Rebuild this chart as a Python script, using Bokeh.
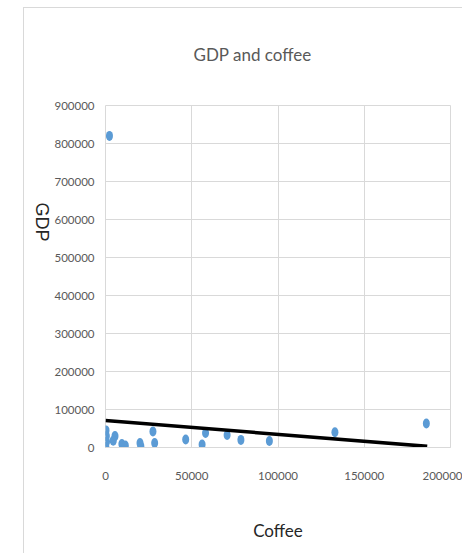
from bokeh.plotting import figure
from bokeh.models import Range1d, NumeralTickFormatter, FixedTicker
from bokeh.embed import file_html
from bokeh.resources import INLINE
import math

# Coffee consumption vs GDP, one point per country
coffee = [2300, 300, 500, 200, 600, 5500, 4500, 9500, 11500, 20500, 20000,
          27500, 28500, 46500, 56000, 58000, 70500, 78500, 95000, 133000, 186000]
gdp = [820000, 45000, 30000, 2000, 15000, 30000, 18000, 9000, 5000, 3000, 12000,
       42000, 12000, 21000, 8000, 38000, 33000, 20000, 17000, 40000, 63000]

# linear trendline end points
trend_coffee = [0, 186500]
trend_gdp = [71000, 3000]

x_ticks = [0, 50000, 100000, 150000, 200000]
y_ticks = [0, 100000, 200000, 300000, 400000, 500000, 600000, 700000, 800000, 900000]

FONT = "Lato"
GRID = "#d9d9d9"
NBSP = "\u00a0"

p = figure(width=462, height=553, output_backend="svg", toolbar_location=None,
           x_range=Range1d(0, 200000), y_range=Range1d(0, 900000),
           min_border_left=105, min_border_right=12,
           min_border_top=105, min_border_bottom=106,
           title="GDP and coffee")
p.background_fill_color = "white"
p.border_fill_alpha = 0
p.outline_line_color = GRID
# chart area border (left and top edges) painted behind the canvas
p.styles = {
    "background-color": "white",
    "background-image": f"linear-gradient({GRID}, {GRID}), linear-gradient({GRID}, {GRID})",
    "background-size": "1px 546px, 439px 1px",
    "background-position": "23px 7px, 23px 7px",
    "background-repeat": "no-repeat",
}

p.title.align = "left"
p.title.offset = 88
p.title.text_font = FONT
p.title.text_font_style = "normal"
p.title.text_font_size = "17px"
p.title.text_color = "#595959"
p.title.standoff = 82

for ax in (p.xaxis, p.yaxis):
    ax.formatter = NumeralTickFormatter(format="0")
    ax.major_tick_out = 0
    ax.major_tick_in = 0
    ax.minor_tick_out = 0
    ax.minor_tick_in = 0
    ax.major_tick_line_color = None
    ax.minor_tick_line_color = None
    ax.major_label_text_font = FONT
    ax.major_label_text_font_size = "11.5px"
    ax.major_label_text_color = "#595959"
    ax.axis_label_text_font_style = "normal"
    ax.axis_label_text_color = "#262626"
p.xaxis.ticker = FixedTicker(ticks=x_ticks)
p.yaxis.ticker = FixedTicker(ticks=y_ticks)
p.xaxis.axis_line_color = GRID
p.yaxis.axis_line_color = None
p.xaxis.major_label_standoff = 24
p.yaxis.major_label_standoff = 11

p.xaxis.axis_label = "Coffee"
p.xaxis.axis_label_text_font = FONT
p.xaxis.axis_label_text_font_size = "17px"
p.xaxis.axis_label_standoff = 37

# reads top to bottom; trailing padding lifts it above the frame's middle
p.yaxis.axis_label = "GDP" + NBSP * 7
p.yaxis.axis_label_text_font = "Liberation Sans"
p.yaxis.axis_label_text_font_size = "18px"
p.yaxis.axis_label_standoff = 9
p.yaxis.axis_label_orientation = -math.pi / 2

p.xgrid.ticker = FixedTicker(ticks=x_ticks)
p.ygrid.ticker = FixedTicker(ticks=y_ticks)
p.xgrid.grid_line_color = GRID
p.ygrid.grid_line_color = GRID

p.ellipse(coffee, gdp, width=7, height=10, width_units="screen", height_units="screen",
          fill_color="#5B9BD5", line_color=None)
p.line(trend_coffee, trend_gdp, line_color="black", line_width=3.5)

open("out.html", "w").write(file_html(p, INLINE))
